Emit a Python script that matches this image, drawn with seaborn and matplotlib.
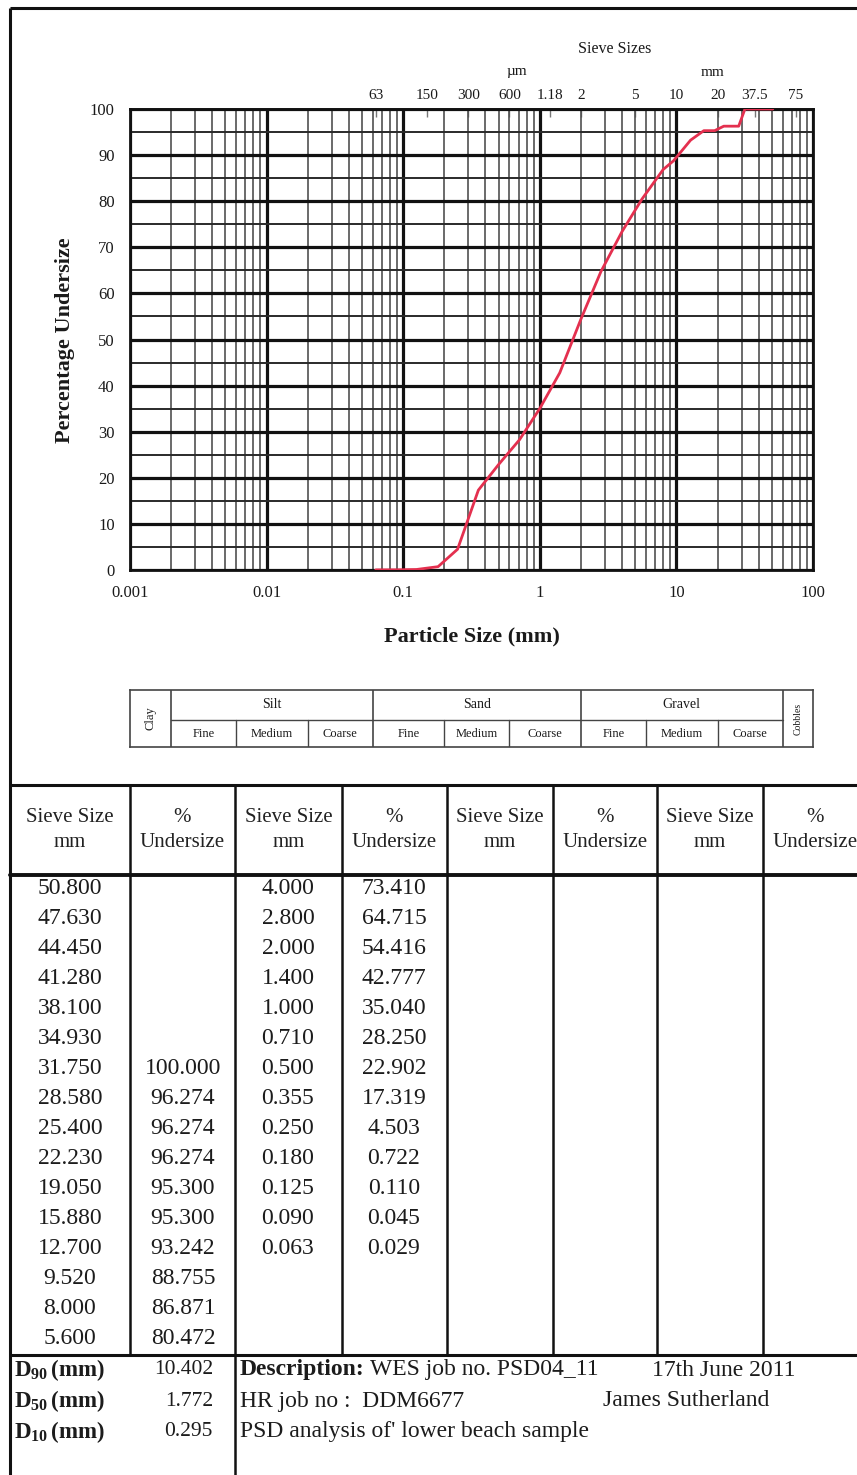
import matplotlib
matplotlib.use("Agg")
import numpy as np
import pandas as pd
import matplotlib.pyplot as plt
from matplotlib.ticker import FixedLocator, LogLocator, MultipleLocator, NullLocator, NullFormatter
import seaborn as sns

# ---- sieve analysis results -------------------------------------------------
sieve_mm_a = [50.800, 47.630, 44.450, 41.280, 38.100, 34.930, 31.750, 28.580,
              25.400, 22.230, 19.050, 15.880, 12.700, 9.520, 8.000, 5.600]
undersize_a = [None, None, None, None, None, None, 100.000, 96.274,
               96.274, 96.274, 95.300, 95.300, 93.242, 88.755, 86.871, 80.472]
sieve_mm_b = [4.000, 2.800, 2.000, 1.400, 1.000, 0.710, 0.500, 0.355,
              0.250, 0.180, 0.125, 0.090, 0.063]
undersize_b = [73.410, 64.715, 54.416, 42.777, 35.040, 28.250, 22.902, 17.319,
               4.503, 0.722, 0.110, 0.045, 0.029]

# standard sieve apertures (mm) marked along the top of the chart
sieve_tick_mm = [0.063, 0.150, 0.300, 0.600, 1.18, 2, 5, 10, 20, 37.5, 75]
sieve_tick_labels = ["63", "150", "300", "600", "1.18", "2", "5", "10", "20", "37.5", "75"]
x_ticks = [0.001, 0.01, 0.1, 1, 10, 100]
x_tick_labels = ["0.001", "0.01", "0.1", "1", "10", "100"]

# soil classification limits (mm)
class_edges = [0.002, 0.006, 0.02, 0.06, 0.2, 0.6, 2, 6, 20, 60]
class_names = ["Silt", "Sand", "Gravel"]
sub_names = ["Fine", "Medium", "Coarse"]

# summary statistics
d_labels = ["90", "50", "10"]
d_values = ["10.402", "1.772", "0.295"]

header_pairs = [("Sieve Size\nmm", "%\nUndersize")] * 4

# ---- styling ------------------------------------------------------------------
sns.set_theme(style="white")
SERIF = ["Liberation Serif", "DejaVu Serif"]
plt.rcParams["font.family"] = SERIF
plt.rcParams["mathtext.fontset"] = "custom"
plt.rcParams["mathtext.rm"] = "Liberation Serif"
plt.rcParams["mathtext.bf"] = "Liberation Serif:bold"
INK = "#1a1a1a"
TXT = "#1c1c1c"
CURVE = "#e4304f"

W, H = 857, 1475
fig = plt.figure(figsize=(W / 100, H / 100), dpi=100)
fig.patch.set_facecolor("white")


def rect(x0, y0, x1, y1):
    return [x0 / W, 1 - y1 / H, (x1 - x0) / W, (y1 - y0) / H]


# full-page canvas in pixel units for the frame and tables
bg = fig.add_axes([0, 0, 1, 1], zorder=0)
bg.set_xlim(0, W)
bg.set_ylim(H, 0)
bg.axis("off")

# ---- grading curve ------------------------------------------------------------
ax = fig.add_axes(rect(130, 109, 813, 570), zorder=2)
sizes = sieve_mm_a + sieve_mm_b
pct = [100.0 if v is None else v for v in undersize_a] + undersize_b
curve = pd.DataFrame({"size": sizes, "pct": pct}).sort_values("size")
sns.lineplot(data=curve, x="size", y="pct", ax=ax, color=CURVE, lw=2.0,
             estimator=None, sort=True, zorder=5)
ax.set_xscale("log")
ax.set_xlim(0.001, 100)
ax.set_ylim(0, 100)
ax.set_xlabel("")
ax.set_ylabel("")
ax.xaxis.set_major_locator(FixedLocator(x_ticks))
ax.set_xticklabels(x_tick_labels)
ax.xaxis.set_minor_locator(LogLocator(base=10, subs=np.arange(2, 10)))
ax.xaxis.set_minor_formatter(NullFormatter())
ax.yaxis.set_major_locator(MultipleLocator(10))
ax.yaxis.set_minor_locator(MultipleLocator(5))
ax.grid(which="major", axis="both", color="#111111", lw=2.3)
ax.grid(which="minor", axis="y", color="#2a2a2a", lw=1.4)
ax.grid(which="minor", axis="x", color="#505050", lw=1.2)
ax.set_axisbelow(True)
for s in ax.spines.values():
    s.set_color("#111111")
    s.set_linewidth(2.0)
ax.tick_params(axis="both", which="major", direction="out", length=4, width=1,
               color=INK, labelsize=12, labelcolor=INK, pad=7)
ax.tick_params(axis="both", which="minor", length=0)

top = ax.secondary_xaxis("top")
top.xaxis.set_major_locator(FixedLocator(sieve_tick_mm))
top.set_xticklabels(sieve_tick_labels)
top.xaxis.set_minor_locator(NullLocator())
top.tick_params(direction="in", length=6, width=1, color="#777777",
                labelsize=11, labelcolor=INK, pad=5)

fig.text(615 / W, 1 - 49 / H, "Sieve Sizes", ha="center", va="center",
         fontsize=11.5, color=INK)
fig.text(517 / W, 1 - 72 / H, "µm", ha="center", va="center", fontsize=11, color=INK)
fig.text(713 / W, 1 - 72 / H, "mm", ha="center", va="center", fontsize=11, color=INK)
fig.text(65 / W, 1 - 340 / H, "Percentage Undersize", rotation=90, ha="center",
         va="center", fontsize=16, fontweight="bold", color=INK)
fig.text(472 / W, 1 - 636 / H, "Particle Size (mm)", ha="center", va="center",
         fontsize=16, fontweight="bold", color=INK)

# ---- classification strip -------------------------------------------------------
cax = fig.add_axes(rect(130, 690, 813, 747), zorder=2)
cax.set_xscale("log")
cax.set_xlim(0.001, 100)
cax.set_ylim(0, 1)
cax.set_xticks([])
cax.set_yticks([])
cax.xaxis.set_minor_locator(NullLocator())
cax.grid(False)
LC = "#444444"
for s in cax.spines.values():
    s.set_color(LC)
    s.set_linewidth(1.2)
major_edges = class_edges[0::3]
for e in major_edges:
    cax.axvline(e, color=LC, lw=1.2)
for e in class_edges:
    if e not in major_edges:
        cax.plot([e, e], [0, 0.47], color=LC, lw=1.0)
cax.plot([class_edges[0], class_edges[-1]], [0.47, 0.47], color=LC, lw=1.0)
for k, name in enumerate(class_names):
    lo, hi = class_edges[3 * k], class_edges[3 * k + 3]
    cax.text(np.sqrt(lo * hi), 0.75, name, ha="center", va="center", fontsize=10, color=INK)
    for j, sub in enumerate(sub_names):
        a, b = class_edges[3 * k + j], class_edges[3 * k + j + 1]
        cax.text(np.sqrt(a * b), 0.23, sub, ha="center", va="center", fontsize=9, color=INK)
cax.text(np.sqrt(0.001 * class_edges[0]), 0.5, "Clay", rotation=90, ha="center",
         va="center", fontsize=9, color=INK)
cax.text(np.sqrt(class_edges[-1] * 100), 0.5, "Cobbles", rotation=90, ha="center",
         va="center", fontsize=7, color=INK)

# ---- page frame and data table ---------------------------------------------------
FL = dict(color="#111111", lw=2.2, solid_capstyle="butt")
bg.plot([10, W], [8, 8], **FL)
bg.plot([10, 10], [8, H], **FL)
bg.plot([10, W], [785, 785], **FL)
bg.plot([10, W], [875, 875], color="#111111", lw=2.8)
bg.plot([10, W], [1355, 1355], **FL)
col_edges = [10, 130, 235, 342, 447, 553, 657, 763, W + 100]
for x in col_edges[1:-1]:
    y_end = H if x == 235 else 1355
    bg.plot([x, x], [785, y_end], color="#111111", lw=1.8)

for c in range(8):
    cx = (col_edges[c] + col_edges[c + 1]) / 2 if c < 7 else 815
    txt = header_pairs[c // 2][c % 2]
    bg.text(cx, 830, txt, ha="center", va="center", fontsize=15, color="#222222",
            linespacing=1.45)

ROW0, STEP = 888, 30
table_cols = [
    (70, [f"{v:.3f}" for v in sieve_mm_a]),
    (183, ["" if v is None else f"{v:.3f}" for v in undersize_a]),
    (288, [f"{v:.3f}" for v in sieve_mm_b]),
    (394, [f"{v:.3f}" for v in undersize_b]),
]
for cx, vals in table_cols:
    for r, s in enumerate(vals):
        if s:
            bg.text(cx, ROW0 + r * STEP, s, ha="center", va="center", fontsize=17,
                    color=TXT)

# summary block
FS = 17
for i, (lab, val) in enumerate(zip(d_labels, d_values)):
    y = 1370 + i * 31
    bg.text(14, y, r"$\mathbf{D_{%s}\,(mm)}$" % lab, ha="left", va="center",
            fontsize=16.5, color=TXT)
    bg.text(213, y, val, ha="right", va="center", fontsize=15.5, color=TXT)

fig.canvas.draw()
renderer = fig.canvas.get_renderer()
t_bold = bg.text(240, 1370, "Description:", ha="left", va="center", fontsize=FS,
                 fontweight="bold", color=TXT)
bb = t_bold.get_window_extent(renderer=renderer)
bg.text(bb.x1 + 5, 1370, "WES job no. PSD04_11", ha="left", va="center",
        fontsize=FS, color=TXT)
bg.text(652, 1370, "17th June 2011", ha="left", va="center", fontsize=FS, color=TXT)
bg.text(240, 1401, "HR job no :  DDM6677", ha="left", va="center", fontsize=FS,
        color=TXT)
bg.text(603, 1401, "James Sutherland", ha="left", va="center", fontsize=FS, color=TXT)
bg.text(240, 1432, "PSD analysis of' lower beach sample", ha="left", va="center",
        fontsize=FS, color=TXT)

fig.savefig("out.png", dpi=100, facecolor="white")
